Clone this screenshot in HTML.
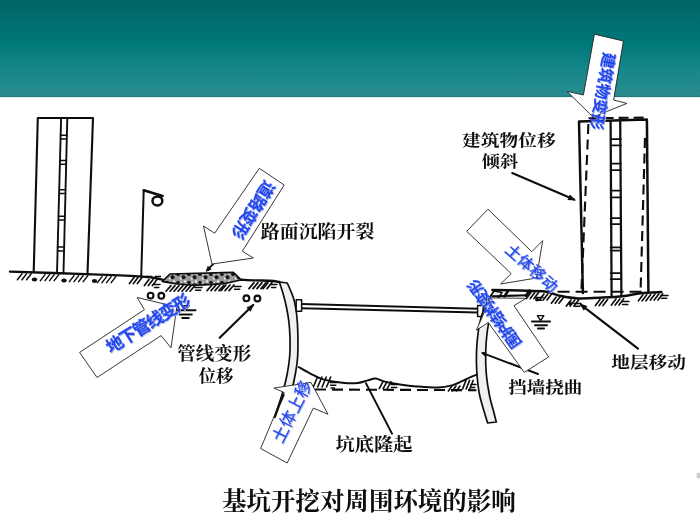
<!DOCTYPE html>
<html lang="zh"><head><meta charset="utf-8"><title>基坑开挖对周围环境的影响</title>
<style>
html,body{margin:0;padding:0}
body{width:700px;height:525px;position:relative;overflow:hidden;background:#fff;font-family:"Liberation Sans",sans-serif}
#hdr{position:absolute;left:0;top:0;width:700px;height:97px;background:linear-gradient(180deg,#006466 0%,#006c6e 20%,#00787a 45%,#14868a 70%,#298c90 98%,#236f74 100%)}
#hdr2{position:absolute;left:0;top:97px;width:700px;height:2px;background:linear-gradient(180deg,#cdeeee,#fff)}
svg{position:absolute;left:0;top:0}
#labels text{font-family:"Liberation Serif","Noto Serif CJK SC",serif;font-weight:bold;fill:#0c0c0c}
#bluetext text{font-family:"Liberation Sans","Noto Sans CJK SC",sans-serif;text-anchor:middle}
#bluetext text.b{font-weight:bold}
#bluetext text.s{fill:#aab6e2;stroke:#aab6e2}
#bluetext text.m{fill:#2448f0;stroke:#2448f0}
</style></head><body>
<div id="hdr"></div><div id="hdr2"></div>
<svg width="700" height="525" viewBox="0 0 700 525">
<defs>
<pattern id="speck" width="11" height="8" patternUnits="userSpaceOnUse"><rect width="11" height="8" fill="#9c9c9c"/><circle cx="2" cy="2.4" r="1.7" fill="#111"/><circle cx="7.5" cy="5.2" r="2" fill="#181818"/><circle cx="4.8" cy="6.4" r="1" fill="#f4f4f4"/><circle cx="9" cy="1.4" r="1.1" fill="#f4f4f4"/><circle cx="5.2" cy="2.2" r=".8" fill="#ddd"/></pattern>
<filter id="sh" x="-20%" y="-20%" width="140%" height="140%"><feDropShadow dx="0.8" dy="0.8" stdDeviation="0.3" flood-color="#8f9ccc" flood-opacity="0.8"/></filter>
<filter id="soft"><feGaussianBlur stdDeviation="0.35"/></filter>
</defs>
<g id="diagram" fill="none" stroke="#111" stroke-linecap="round" stroke-linejoin="round" filter="url(#soft)">
<path d="M10 271.6C18.33 271.87 41.67 272.57 60 273.2C78.33 273.83 105 274.73 120 275.4C135 276.07 142.83 276.43 150 277.2C157.17 277.97 160.83 279.53 163 280" stroke-width="2.38"/>
<path d="M22 273.82l-4.6 6M26.6 273.82l-4.6 6M31.2 273.82l-4.6 6" stroke-width="1.5"/>
<path d="M45 274.62l-4.6 6M49.6 274.62l-4.6 6M54.2 274.62l-4.6 6M58.8 274.62l-4.6 6" stroke-width="1.5"/>
<path d="M74 275.64l-4.6 6M78.6 275.64l-4.6 6M83.2 275.64l-4.6 6M87.8 275.64l-4.6 6" stroke-width="1.5"/>
<path d="M102 276.62l-4.6 6M106.6 276.62l-4.6 6M111.2 276.62l-4.6 6M115.8 276.62l-4.6 6" stroke-width="1.5"/>
<ellipse cx="34.5" cy="279.6" rx="2.7" ry="2" fill="#111" stroke="none"/>
<ellipse cx="64" cy="280.4" rx="2.7" ry="2" fill="#111" stroke="none"/>
<ellipse cx="94.5" cy="281" rx="2.7" ry="2" fill="#111" stroke="none"/>
<path d="M134 277.6l-4.6 6M138 277.6l-4.6 6M142 277.6l-4.6 6" stroke-width="1.7"/>
<path d="M149 279.6l-4.6 6M153 279.6l-4.6 6M157 279.6l-4.6 6" stroke-width="1.7"/>
<path d="M154 284.6h6M154.54 287.4h4.2" stroke-width="1.5"/>
<path d="M33.7 272.3L37.8 118L93 118L87.5 274" stroke-width="2.12"/>
<path d="M61.1 118L57 273" stroke-width="1.88"/>
<path d="M67.3 118L63.5 273.2" stroke-width="1.88"/>
<path d="M60.59 135.3L66.83 135.3" stroke-width="1.5"/>
<path d="M60.59 139.1L66.83 139.1" stroke-width="1.5"/>
<path d="M59.93 160.5L66.21 160.5" stroke-width="1.5"/>
<path d="M59.93 164.3L66.21 164.3" stroke-width="1.5"/>
<path d="M59.15 189.7L65.5 189.7" stroke-width="1.5"/>
<path d="M59.15 193.5L65.5 193.5" stroke-width="1.5"/>
<path d="M58.45 216.3L64.84 216.3" stroke-width="1.5"/>
<path d="M58.45 220.1L64.84 220.1" stroke-width="1.5"/>
<path d="M57.63 247.1L64.09 247.1" stroke-width="1.5"/>
<path d="M57.63 250.9L64.09 250.9" stroke-width="1.5"/>
<path d="M143.7 190.2L141.2 277" stroke-width="2"/>
<path d="M143.7 190.2L162.6 196" stroke-width="2.5"/>
<ellipse cx="157.4" cy="200.9" rx="4.9" ry="4.5" stroke-width="2.5"/>
<path d="M162.3 281.4L170 274L233.4 272.3L241.1 279.8C239.58 280.17 236.02 281.27 232 282C227.98 282.73 223.77 283.67 217 284.2C210.23 284.73 198.4 285.3 191.4 285.2C184.4 285.1 179.85 284.23 175 283.6C170.15 282.97 164.42 281.77 162.3 281.4 Z" fill="url(#speck)" stroke-width="1.7"/>
<path d="M146 276.6h15" stroke-width="1.5" stroke-dasharray="6 3" stroke-linecap="butt"/>
<path d="M241.1 279.8C243.42 279.9 250.18 280.25 255 280.4C259.82 280.55 265.95 280.43 270 280.7C274.05 280.97 277.75 281.78 279.3 282" stroke-width="2.38"/>
<path d="M171 285.6l-5 5.6M175 285.6l-5 5.6M179 285.6l-5 5.6M183 285.6l-5 5.6" stroke-width="1.7"/>
<path d="M187 285.6l-5 5.6M191 285.6l-5 5.6M195 285.6l-5 5.6" stroke-width="1.7"/>
<path d="M195 287.4h7M195.54 290.2h5.2" stroke-width="1.5"/>
<path d="M212 285l-5 5.6M216 285l-5 5.6M220 285l-5 5.6M224 285l-5 5.6" stroke-width="1.7"/>
<path d="M226 285l-5 5.6M230 285l-5 5.6M234 285l-5 5.6" stroke-width="1.7"/>
<path d="M234 286.4h7M234.54 289.2h5.2" stroke-width="1.5"/>
<path d="M254 282.6l-5 6M258 282.6l-5 6M262 282.6l-5 6M266 282.6l-5 6" stroke-width="1.7"/>
<path d="M268 282.6l-5 6M272 282.6l-5 6" stroke-width="1.7"/>
<path d="M271 284.6h6M271.54 287.4h4.2" stroke-width="1.5"/>
<path d="M213.7 263.4L207.5 270" stroke-width="1.88"/>
<polygon points="205.6,272 207.82,265.85 211.61,269.41" fill="#111" stroke="none"/>
<circle cx="150.6" cy="295.6" r="2.9" stroke-width="2.1"/>
<circle cx="161.3" cy="295.8" r="2.9" stroke-width="2.1"/>
<circle cx="246.4" cy="298.3" r="2.9" stroke-width="2.1"/>
<circle cx="257.4" cy="298.5" r="2.9" stroke-width="2.1"/>
<path d="M177 310.2h18.5M179.6 314.4h12.2M182.2 318h6.6" stroke-width="2"/>
<path d="M183 305.6l3.2 4.4l3.2 -4.4z" stroke-width="1.25"/>
<path d="M532 321.5h18M535 325.3h12M538 328.6h6" stroke-width="2"/>
<path d="M537.4 315.6l3.2 5l3.2 -5z" stroke-width="1.38"/>
<path d="M279.3 282C279.95 284 281.98 289.67 283.2 294C284.42 298.33 285.65 303.33 286.6 308C287.55 312.67 288.33 317 288.9 322C289.47 327 289.87 332.33 290 338C290.13 343.67 290.17 350 289.7 356C289.23 362 288.35 368 287.2 374C286.05 380 284.6 385.67 282.8 392C281 398.33 278.2 406 276.4 412C274.6 418 273.23 423.33 272 428C270.77 432.67 269.5 438 269 440L278 440C278.5 438 279.73 432.67 281 428C282.27 423.33 283.87 418 285.6 412C287.33 406 289.72 398.67 291.4 392C293.08 385.33 294.65 378 295.7 372C296.75 366 297.35 362.67 297.7 356C298.05 349.33 297.98 339 297.8 332C297.62 325 297.18 319.17 296.6 314C296.02 308.83 295.2 304.67 294.3 301C293.4 297.33 292.37 295 291.2 292C290.03 289 287.95 284.5 287.3 283Z" fill="#f0f0f0" stroke-width="1.7"/>
<path d="M301.5 304.0L478 308.7M301.5 308.2L478 312.6" stroke-width="2"/>
<rect x="296.2" y="299.8" width="5.4" height="11.4" fill="#fff" stroke-width="1.5"/>
<rect x="477.6" y="305.6" width="5.6" height="10.8" fill="#fff" stroke-width="1.5"/>
<path d="M494 291C492.83 292.83 489.08 297.83 487 302C484.92 306.17 482.97 311 481.5 316C480.03 321 479.03 326 478.2 332C477.37 338 476.73 345.33 476.5 352C476.27 358.67 476.32 365 476.8 372C477.28 379 478.1 387.17 479.4 394C480.7 400.83 483.23 408.17 484.6 413C485.97 417.83 487.1 421.33 487.6 423L496.3 422C495.92 420.5 495.12 417.33 494 413C492.88 408.67 490.88 402.5 489.6 396C488.32 389.5 486.95 381.33 486.3 374C485.65 366.67 485.55 359 485.7 352C485.85 345 486.43 338 487.2 332C487.97 326 488.92 320.83 490.3 316C491.68 311.17 493.55 306.92 495.5 303C497.45 299.08 500.92 294.25 502 292.5Z" fill="#f0f0f0" stroke-width="1.7"/>
<path d="M298.6 367C300.5 368.07 305.88 371.33 310 373.4C314.12 375.47 317.52 377.8 323.3 379.4C329.08 381 338.92 382.4 344.7 383C350.48 383.6 354.12 383.43 358 383C361.88 382.57 365.08 381.13 368 380.4C370.92 379.67 372.72 378.4 375.5 378.6C378.28 378.8 380.62 380.63 384.7 381.6C388.78 382.57 394.67 383.6 400 384.4C405.33 385.2 410.37 385.87 416.7 386.4C423.03 386.93 432.12 387.77 438 387.6C443.88 387.43 448 386.47 452 385.4C456 384.33 459 382.53 462 381.2C465 379.87 467.5 378.5 470 377.4C472.5 376.3 475.83 375.07 477 374.6" stroke-width="2"/>
<path d="M315 389.5L476.5 390.2" stroke-width="2.12" stroke-dasharray="11 6" stroke-linecap="butt"/>
<path d="M317.5 377l-4.2 10M321.9 377l-4.2 10M326.3 377l-4.2 10M330.7 377l-4.2 10" stroke-width="1.6"/>
<path d="M330 382.5h7M330.54 385.3h5.2M331.08 388.1h3.4" stroke-width="1.5"/>
<path d="M383 381.6l-3.8 7M387 381.6l-3.8 7M391 381.6l-3.8 7" stroke-width="1.6"/>
<path d="M391 384.6h7M391.54 387.4h5.2" stroke-width="1.5"/>
<path d="M452 386l-3.6 5M456 386l-3.6 5M460 386l-3.6 5" stroke-width="1.6"/>
<path d="M466 380.4l-3.4 8.5M469.6 380.4l-3.4 8.5M473.2 380.4l-3.4 8.5" stroke-width="1.6"/>
<path d="M471 384.6h5M471.54 387.4h3.2" stroke-width="1.5"/>
<path d="M492.4 290C497 290.1 511.23 290.33 520 290.6C528.77 290.87 538.22 290.7 545 291.6C551.78 292.5 555.2 294.87 560.7 296C566.2 297.13 570.95 298.13 578 298.4C585.05 298.67 595.52 297.97 603 297.6C610.48 297.23 616.58 296.93 622.9 296.2C629.22 295.47 634.48 293.88 640.9 293.2C647.32 292.52 657.98 292.28 661.4 292.1" stroke-width="2.5"/>
<path d="M492.4 296.3L528 295.2" stroke-width="2.12"/>
<path d="M557.6 291.7H644" stroke-width="2.12" stroke-dasharray="12 6" stroke-linecap="butt"/>
<path d="M504.6 296.3l3.4 -5.4M526 295.6l3.6 -5" stroke-width="2.75"/>
<path d="M531 292.6l-4.6 6M534.8 292.6l-4.6 6M538.6 292.6l-4.6 6" stroke-width="1.7"/>
<path d="M544 294l-4.6 6M547.8 294l-4.6 6M551.6 294l-4.6 6" stroke-width="1.7"/>
<path d="M556 297.2l-4.6 6M559.8 297.2l-4.6 6M563.6 297.2l-4.6 6" stroke-width="1.7"/>
<path d="M571 300l-4.6 6M574.8 300l-4.6 6M578.6 300l-4.6 6" stroke-width="1.7"/>
<path d="M600 299.6l-4.6 6M603.8 299.6l-4.6 6M607.6 299.6l-4.6 6" stroke-width="1.7"/>
<path d="M616 299l-4.6 6M619.8 299l-4.6 6M623.6 299l-4.6 6" stroke-width="1.7"/>
<path d="M643 294.8l-4.6 6M646.8 294.8l-4.6 6M650.6 294.8l-4.6 6" stroke-width="1.7"/>
<path d="M655 294l-4.6 6M658.8 294l-4.6 6M662.6 294l-4.6 6" stroke-width="1.7"/>
<path d="M536 297.5h7M536.54 300.3h5.2" stroke-width="1.5"/>
<path d="M574 303.4h7M574.54 306.2h5.2" stroke-width="1.5"/>
<path d="M622 301.6h7M622.54 304.4h5.2" stroke-width="1.5"/>
<path d="M661 295.4h7M661.54 298.2h5.2" stroke-width="1.5"/>
<circle cx="537" cy="299.5" r="1.9" fill="#111" stroke="none"/>
<circle cx="570" cy="303.5" r="1.9" fill="#111" stroke="none"/>
<path d="M582.9 293L579 121.6L646.9 119.6L648.4 292.2" stroke-width="2.5"/>
<path d="M610.6 121L611.6 296" stroke-width="2.25"/>
<path d="M620.2 121L621.4 296" stroke-width="2.25"/>
<path d="M610.6 139L621 139" stroke-width="1.75"/>
<path d="M610.6 145.4L621 145.4" stroke-width="1.75"/>
<path d="M610.6 163.6L621 163.6" stroke-width="1.75"/>
<path d="M610.6 170L621 170" stroke-width="1.75"/>
<path d="M610.6 190.5L621 190.5" stroke-width="1.75"/>
<path d="M610.6 197.3L621 197.3" stroke-width="1.75"/>
<path d="M610.6 218L621 218" stroke-width="1.75"/>
<path d="M610.6 224L621 224" stroke-width="1.75"/>
<path d="M610.6 247.4L621 247.4" stroke-width="1.75"/>
<path d="M610.6 250.6L621 250.6" stroke-width="1.75"/>
<path d="M610.6 273L621 273" stroke-width="1.75"/>
<path d="M610.6 279L621 279" stroke-width="1.75"/>
<path d="M588.6 118.2L646 117.6" stroke-width="2.12" stroke-dasharray="10 5" stroke-linecap="butt"/>
<path d="M588.4 124L581.4 291" stroke-width="2.12" stroke-dasharray="10 5.5" stroke-linecap="butt"/>
<path d="M645 138L640.6 291" stroke-width="2.12" stroke-dasharray="10 5.5" stroke-linecap="butt"/>
<ellipse cx="698.5" cy="475.5" rx="2" ry="3" fill="#ccc" stroke="none"/>
<path d="M512.2 173L574.09 199.58" stroke-width="2.12"/>
<polygon points="576,200.4 567.47,200 569.83,194.49" fill="#111" stroke="none"/>
<path d="M219.7 337.8L253.16 305.01" stroke-width="2.19"/>
<polygon points="254.2,304 250.58,311.74 246.39,307.46" fill="#111" stroke="none"/>
<path d="M638 348.6L581.06 304.95" stroke-width="2.19"/>
<polygon points="579.3,303.6 587.47,306.09 583.82,310.85" fill="#111" stroke="none"/>
<path d="M392 433.6L366 383.4" stroke-width="2"/>
<path d="M538 374L482.71 353.05" stroke-width="1.88"/>
<polygon points="481,352.4 486.53,351.93 484.83,356.42" fill="#111" stroke="none"/>
</g>
<g id="labels" filter="url(#soft)">
<text transform="translate(260.85 238.1) scale(1 0.966)" font-size="18.92">路面沉陷开裂</text>
<text transform="translate(462.04 145.71) scale(1 0.829)" font-size="18.73">建筑物位移</text>
<text transform="translate(481.82 167.48) scale(1 0.863)" font-size="18.1">倾斜</text>
<text transform="translate(177.34 359.55) scale(1 0.975)" font-size="18.5">管线变形</text>
<text transform="translate(198.7 381.72) scale(1 0.948)" font-size="17.4">位移</text>
<text transform="translate(335.39 450.61) scale(1 0.955)" font-size="19.29">坑底隆起</text>
<text transform="translate(508.3 392.9) scale(1 0.851)" font-size="18.49">挡墙挠曲</text>
<text transform="translate(611.24 367.99) scale(1 0.845)" font-size="18.66">地层移动</text>
<text transform="translate(222.11 510.25) scale(1 1.033)" font-size="24.49">基坑开挖对周围环境的影响</text>
</g>
<g id="callouts">
<polygon points="259.3,168.3 284.2,185 242.3,251.2 253.3,258 212,264.1 203.5,226 214.7,233.2" fill="#fff" stroke="#222" stroke-width="0.9" stroke-linejoin="miter"/>
<polygon points="594.4,34.2 623.4,41 613.6,100 626.9,103.4 593,117.1 567,91.3 583.4,95" fill="#fff" stroke="#222" stroke-width="0.9" stroke-linejoin="miter"/>
<polygon points="488,209.2 531.8,251.7 542.7,240.6 536.4,278 500.6,284 511.2,273.6 466.7,231.3" fill="#fff" stroke="#222" stroke-width="0.9" stroke-linejoin="miter"/>
<polygon points="548.7,356.9 514,305.7 526,298.3 490.8,297.9 476.4,330.1 488.3,322.6 524.3,372.4" fill="#fff" stroke="#222" stroke-width="0.9" stroke-linejoin="miter"/>
<polygon points="79.6,352.4 144.4,309.7 137.1,297.5 176.8,306.9 171,347.8 161.1,335.6 97,377.5" fill="#fff" stroke="#222" stroke-width="0.9" stroke-linejoin="miter"/>
<polygon points="260.6,448.5 284.2,392.5 273.9,388.1 310.9,382.4 328,414.2 313.3,408.1 287.2,463" fill="#fff" stroke="#222" stroke-width="0.9" stroke-linejoin="miter"/>
<path d="M274.8 417L279 405.6L283.6 395" fill="none" stroke="#111" stroke-width="2.2" stroke-linecap="round"/>
</g>
<g id="bluetext">
<text class="b s" transform="translate(254.4 210.7) rotate(122.3)" y="6.42" font-size="16.8" letter-spacing="-0.7" stroke-width="0.13">道路变形</text>
<text class="b m" transform="translate(253.5 209.8) rotate(122.3)" y="6.42" font-size="16.8" letter-spacing="-0.7" stroke-width="0.13">道路变形</text>
<text class="b s" transform="translate(603.9 92) rotate(99.8)" y="6.04" font-size="15.8" letter-spacing="-0.2" stroke-width="0.13">建筑物变形</text>
<text class="b m" transform="translate(603 91.1) rotate(99.8)" y="6.04" font-size="15.8" letter-spacing="-0.2" stroke-width="0.13">建筑物变形</text>
<text class="s" transform="translate(533.1 268.9) rotate(41.3)" y="5.81" font-size="15.4" letter-spacing="0.6" stroke-width="0.31">土体移动</text>
<text class="m" transform="translate(532.2 268) rotate(41.3)" y="5.81" font-size="15.4" letter-spacing="0.6" stroke-width="0.31">土体移动</text>
<text class="b s" transform="translate(495.2 315.1) rotate(234.7) scale(0.9 1)" y="5.88" font-size="15.4" letter-spacing="-0.73" stroke-width="0.15">围护结构变形</text>
<text class="b m" transform="translate(494.3 314.2) rotate(234.7) scale(0.9 1)" y="5.88" font-size="15.4" letter-spacing="-0.73" stroke-width="0.15">围护结构变形</text>
<text class="b s" transform="translate(148.2 324.3) rotate(-31.8)" y="6.49" font-size="17" letter-spacing="-1.3" stroke-width="0.17">地下管线变形</text>
<text class="b m" transform="translate(147.3 323.4) rotate(-31.8)" y="6.49" font-size="17" letter-spacing="-1.3" stroke-width="0.17">地下管线变形</text>
<text class="s" transform="translate(292.5 412.1) rotate(-63)" y="6.27" font-size="16.6" letter-spacing="0.2" stroke-width="0.17">土体上移</text>
<text class="m" transform="translate(291.6 411.2) rotate(-63)" y="6.27" font-size="16.6" letter-spacing="0.2" stroke-width="0.17">土体上移</text>
</g>
</svg>
</body></html>
